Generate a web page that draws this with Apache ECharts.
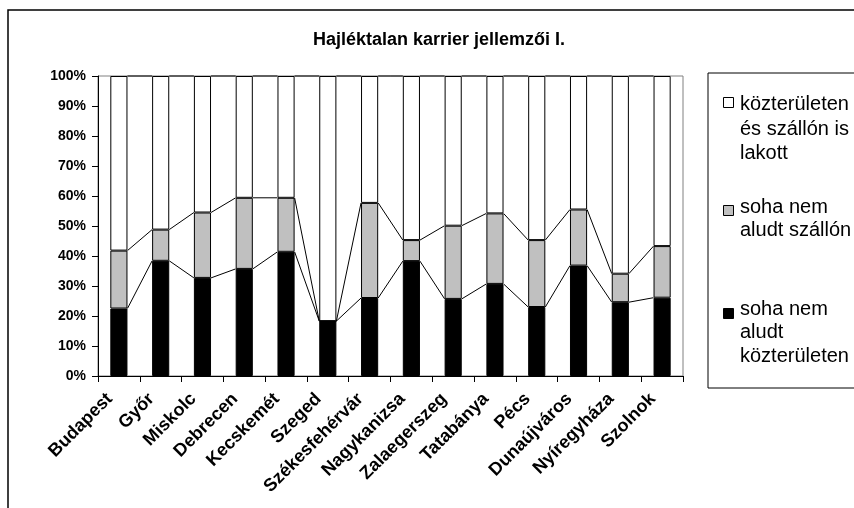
<!DOCTYPE html>
<html>
<head>
<meta charset="utf-8">
<script src="https://cdn.jsdelivr.net/npm/echarts@6/dist/echarts.min.js"></script>
<style>
  html, body { margin: 0; padding: 0; background: #fff; }
  #chart { width: 854px; height: 508px; }
</style>
</head>
<body>
<div id="chart"></div>
<script>
var categories = ['Budapest', 'Győr', 'Miskolc', 'Debrecen', 'Kecskemét', 'Szeged', 'Székesfehérvár',
  'Nagykanizsa', 'Zalaegerszeg', 'Tatabánya', 'Pécs', 'Dunaújváros', 'Nyíregyháza', 'Szolnok'];
// soha nem aludt közterületen (black)
var neverStreet = [22.5, 38.4, 32.7, 35.7, 41.4, 18.3, 26.0, 38.3, 25.7, 30.7, 23.0, 36.8, 24.6, 26.1];
// soha nem aludt szállón (grey)
var neverHostel = [19.3, 10.4, 21.8, 23.7, 18.0, 0, 31.7, 7.0, 24.4, 23.5, 22.3, 18.7, 9.5, 17.2];
// közterületen és szállón is lakott (white)
var both = [58.2, 51.2, 45.5, 40.6, 40.6, 81.7, 42.3, 54.7, 49.9, 45.8, 54.7, 44.5, 65.9, 56.7];

var FONT = 'Liberation Sans, Arial, sans-serif';
var BAR_RATIO = 0.41;

// series lines (Excel style): join segment tops from one bar to the next
var seriesLineData = [];
for (var i = 0; i < categories.length - 1; i++) {
  var a1 = neverStreet[i], a2 = neverStreet[i] + neverHostel[i], a3 = a2 + both[i];
  var b1 = neverStreet[i + 1], b2 = neverStreet[i + 1] + neverHostel[i + 1], b3 = b2 + both[i + 1];
  seriesLineData.push([i, a1, a2, a3, b1, b2, b3]);
}

var myChart = echarts.init(document.getElementById('chart'));

var legendFont = '20px ' + FONT;

var option = {
  animation: false,
  backgroundColor: '#fff',
  title: {
    text: 'Hajléktalan karrier jellemzői I.',
    left: 308,
    top: 26,
    textStyle: { fontFamily: FONT, fontSize: 18, fontWeight: 'bold', color: '#000' }
  },
  grid: {
    left: 98, top: 76, width: 585, height: 300,
    show: true, borderColor: '#808080', borderWidth: 1, backgroundColor: '#fff'
  },
  xAxis: {
    type: 'category',
    data: categories,
    axisLine: { lineStyle: { color: '#000', width: 1 } },
    axisTick: { show: true, inside: false, length: 6, lineStyle: { color: '#000' } },
    axisLabel: {
      rotate: 45, margin: 11, interval: 0,
      formatter: function (v) { return '{a|' + v + '}'; },
      rich: {
        a: { padding: [0, 13, 0, 0], fontFamily: FONT, fontSize: 18, fontWeight: 'bold', color: '#000' }
      },
      fontFamily: FONT, fontSize: 18, fontWeight: 'bold', color: '#000'
    },
    splitLine: { show: false }
  },
  yAxis: {
    type: 'value',
    min: 0, max: 100, interval: 10,
    axisLine: { show: true, lineStyle: { color: '#000', width: 1 } },
    axisTick: { show: true, length: 6, lineStyle: { color: '#000' } },
    axisLabel: {
      formatter: '{value}%', margin: 12,
      fontFamily: FONT, fontSize: 14, fontWeight: 'bold', color: '#000'
    },
    splitLine: { show: false }
  },
  series: [
    {
      name: 'soha nem aludt közterületen',
      type: 'bar', stack: 'total', barWidth: (BAR_RATIO * 100) + '%',
      itemStyle: { color: '#000', borderColor: '#000', borderWidth: 1 },
      data: neverStreet
    },
    {
      name: 'soha nem aludt szállón',
      type: 'bar', stack: 'total',
      itemStyle: { color: '#c0c0c0', borderColor: '#000', borderWidth: 1 },
      data: neverHostel
    },
    {
      name: 'közterületen és szállón is lakott',
      type: 'bar', stack: 'total',
      itemStyle: { color: '#fff', borderColor: '#000', borderWidth: 1 },
      data: both
    },
    {
      type: 'custom',
      silent: true,
      z: 5,
      data: seriesLineData,
      renderItem: function (params, api) {
        var idx = api.value(0);
        var band = api.size([1, 0])[0];
        var half = band * BAR_RATIO / 2;
        var children = [];
        for (var k = 1; k <= 3; k++) {
          var p1 = api.coord([idx, api.value(k)]);
          var p2 = api.coord([idx + 1, api.value(k + 3)]);
          children.push({
            type: 'line',
            shape: { x1: p1[0] + half, y1: p1[1], x2: p2[0] - half, y2: p2[1] },
            style: { stroke: '#000', lineWidth: 1 }
          });
        }
        return { type: 'group', children: children };
      }
    }
  ],
  graphic: [
    {
      type: 'rect', silent: true, z: 0,
      shape: { x: 8, y: 10, width: 1000, height: 1000 },
      style: { fill: 'none', stroke: '#000', lineWidth: 1.5 }
    },
    {
      type: 'group', silent: true,
      children: [
        { type: 'rect', shape: { x: 708, y: 73, width: 300, height: 315 },
          style: { fill: '#fff', stroke: '#000', lineWidth: 1 } },
        { type: 'rect', shape: { x: 723.5, y: 97.5, width: 10, height: 10 },
          style: { fill: '#fff', stroke: '#000', lineWidth: 1 } },
        { type: 'rect', shape: { x: 723.5, y: 205.5, width: 10, height: 10 },
          style: { fill: '#c0c0c0', stroke: '#000', lineWidth: 1 } },
        { type: 'rect', shape: { x: 723.5, y: 308.5, width: 10, height: 10 },
          style: { fill: '#000', stroke: '#000', lineWidth: 1 } },
        { type: 'text', x: 740, y: 104, style: { text: 'közterületen', font: legendFont, fill: '#000', verticalAlign: 'middle' } },
        { type: 'text', x: 740, y: 129, style: { text: 'és szállón is', font: legendFont, fill: '#000', verticalAlign: 'middle' } },
        { type: 'text', x: 740, y: 153, style: { text: 'lakott', font: legendFont, fill: '#000', verticalAlign: 'middle' } },
        { type: 'text', x: 740, y: 207, style: { text: 'soha nem', font: legendFont, fill: '#000', verticalAlign: 'middle' } },
        { type: 'text', x: 740, y: 230, style: { text: 'aludt szállón', font: legendFont, fill: '#000', verticalAlign: 'middle' } },
        { type: 'text', x: 740, y: 309, style: { text: 'soha nem', font: legendFont, fill: '#000', verticalAlign: 'middle' } },
        { type: 'text', x: 740, y: 332, style: { text: 'aludt', font: legendFont, fill: '#000', verticalAlign: 'middle' } },
        { type: 'text', x: 740, y: 356, style: { text: 'közterületen', font: legendFont, fill: '#000', verticalAlign: 'middle' } }
      ]
    }
  ]
};

myChart.setOption(option);
window.onresize = function () {
  myChart.resize();
};
</script>
</body>
</html>
